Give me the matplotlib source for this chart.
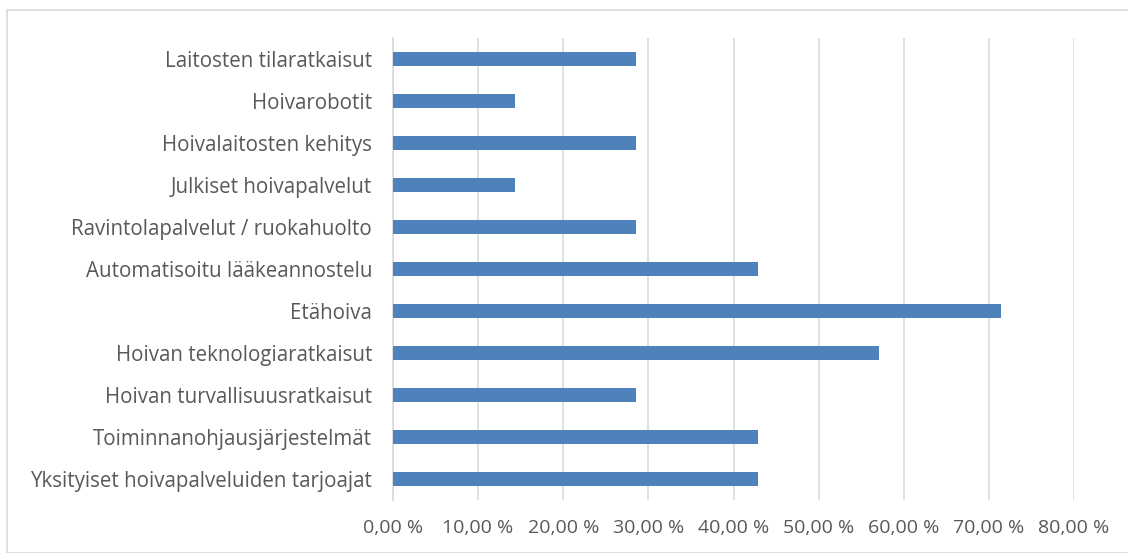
import matplotlib
matplotlib.use("Agg")
import matplotlib.pyplot as plt
from matplotlib.patches import Rectangle
from matplotlib.ticker import FuncFormatter

categories = [
    "Laitosten tilaratkaisut",
    "Hoivarobotit",
    "Hoivalaitosten kehitys",
    "Julkiset hoivapalvelut",
    "Ravintolapalvelut / ruokahuolto",
    "Automatisoitu lääkeannostelu",
    "Etähoiva",
    "Hoivan teknologiaratkaisut",
    "Hoivan turvallisuusratkaisut",
    "Toiminnanohjausjärjestelmät",
    "Yksityiset hoivapalveluiden tarjoajat",
]
values = [28.57, 14.29, 28.57, 14.29, 28.57, 42.86, 71.43, 57.14, 28.57, 42.86, 42.86]
x_ticks = [0, 10, 20, 30, 40, 50, 60, 70, 80]

plt.rcParams['font.family'] = ['Open Sans', 'DejaVu Sans']

W, H = 1128, 553
fig = plt.figure(figsize=(W / 100, H / 100), dpi=100)
fig.patch.set_facecolor("white")

# outer chart frame
fig.add_artist(Rectangle((7 / W, 0), 1.2, 1 - 10 / H, transform=fig.transFigure,
                         fill=False, edgecolor="#d9d9d9", linewidth=1.2))

ax = fig.add_axes([393 / W, 1 - 500 / H, (1074 - 393) / W, (500 - 38) / H])
ypos = list(range(len(categories)))
ax.barh(ypos, values, height=0.34, color="#4f81bd", zorder=3)
ax.set_ylim(len(categories) - 0.5, -0.5)
ax.set_xlim(0, 80)
ax.set_yticks(ypos)
ax.set_yticklabels(categories)
ax.set_xticks(x_ticks)
ax.xaxis.set_major_formatter(FuncFormatter(lambda v, p: f"{v:.2f}".replace(".", ",") + " %"))
ax.grid(axis="x", color="#d9d9d9", linewidth=1.2, zorder=0)
for s in ["top", "right", "bottom"]:
    ax.spines[s].set_visible(False)
ax.spines["left"].set_color("#d9d9d9")
ax.spines["left"].set_linewidth(1.2)
ax.tick_params(axis="y", length=0, labelsize=14.8, colors="#595959", pad=15)
ax.tick_params(axis="x", length=0, labelsize=14, colors="#595959", pad=14)

fig.savefig("out.png", dpi=100)
